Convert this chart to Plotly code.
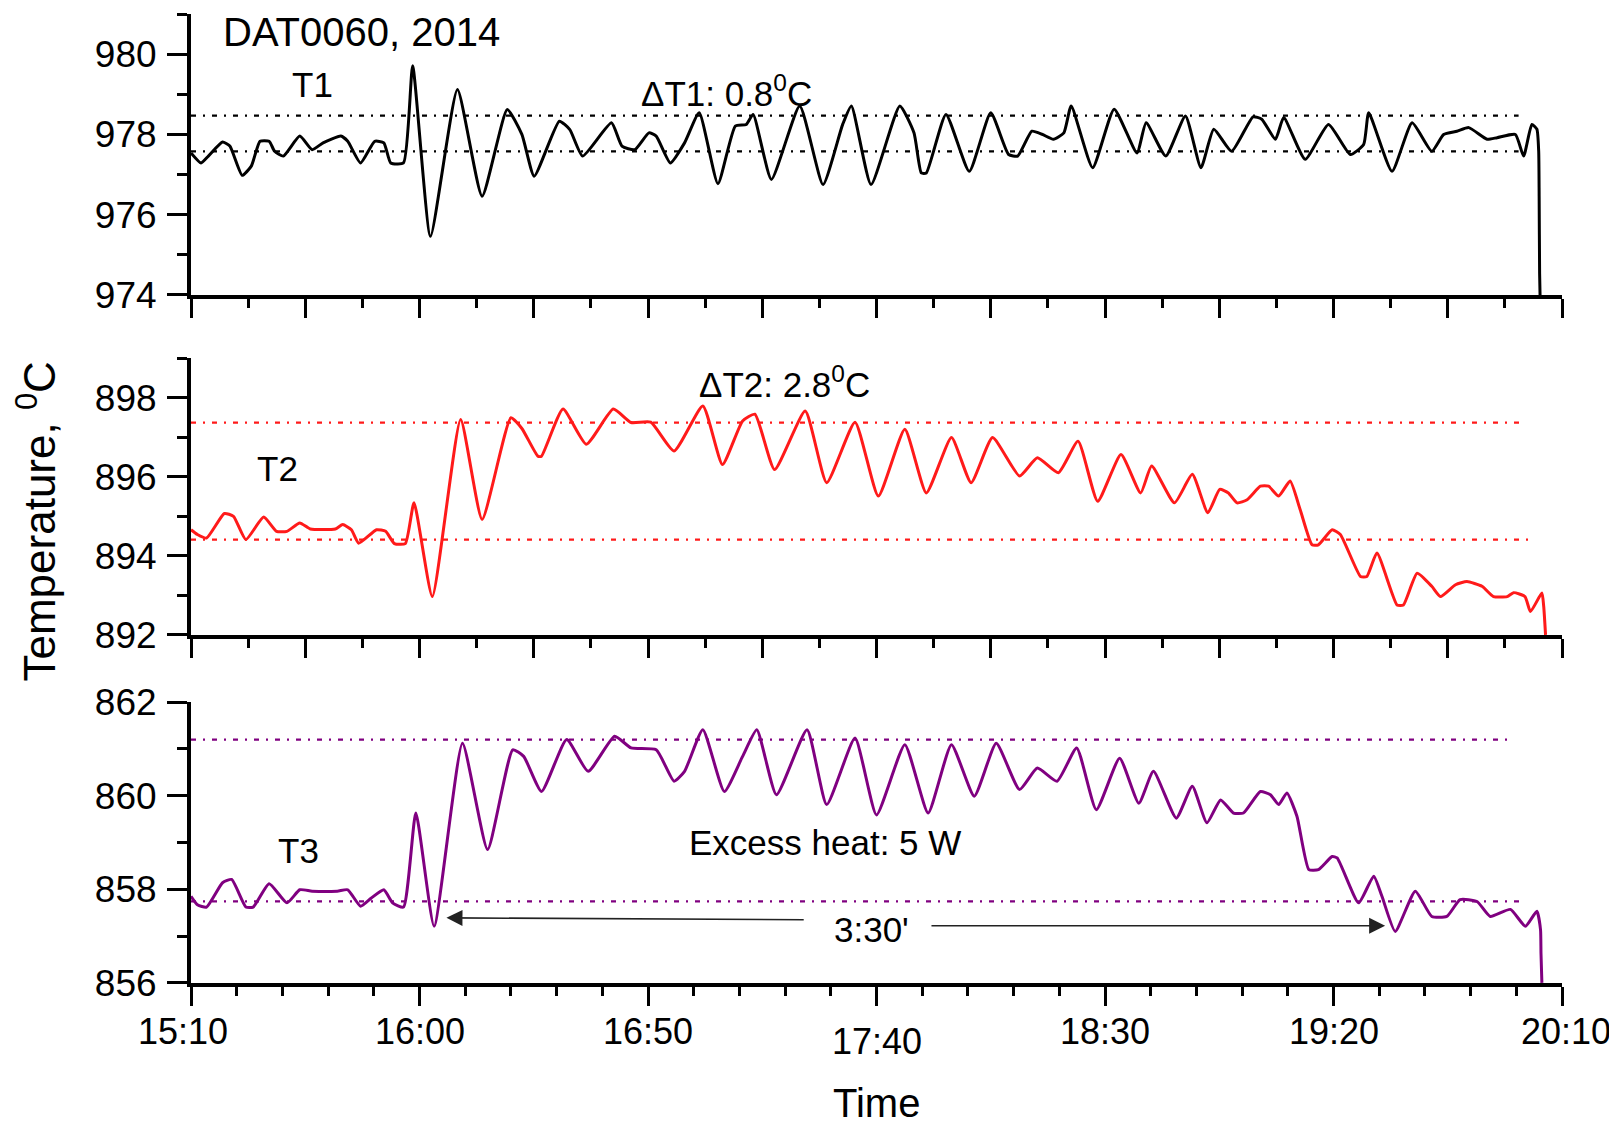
import plotly.graph_objects as go

# ---------------- data (minutes after 15:10, temperature in deg C) ----------------
t1_time = [0, 2.2, 3.8, 6.9, 8.5, 11.2, 13.2, 15.1, 17.1, 18.3, 20.2, 23.8, 26.5, 28.9, 32.8, 34.3,
           37.1, 40.2, 42.2, 43.7, 46.5, 48.5, 52.4, 58.3, 63.7, 69.2, 72.4, 75.1, 80.6, 82.9, 85.7,
           92.0, 94.3, 97.1, 100.2, 101.8, 104.9, 108.0, 111.2, 115.3, 119.1, 121.5, 123.0, 127.0,
           133.2, 138.3, 142.6, 144.5, 148.8, 155.1, 158.2, 159.8, 160.9, 165.2, 170.3, 175.0, 178.9,
           180.9, 184.0, 186.3, 188.7, 191.0, 192.6, 197.3, 202.0, 207.0, 209.0, 213.3, 217.6, 221.0,
           223.8, 227.7, 232.4, 234.3, 237.3, 239.1, 243.8, 248.9, 253.7, 256.6, 257.7, 262.8, 267.2,
           271.5, 274.1, 277.0, 279.6, 283.6, 285.8, 289.8, 291.6, 293.4, 294.5, 294.9, 295.0, 295.1,
           295.2]
t1_temp = [977.54, 977.29, 977.46, 977.81, 977.71, 976.98, 977.21, 977.83, 977.83, 977.58, 977.46,
           977.96, 977.62, 977.79, 977.96, 977.83, 977.29, 977.83, 977.79, 977.29, 977.29, 979.71,
           975.46, 979.12, 976.46, 978.62, 978.0, 976.96, 978.33, 978.12, 977.46, 978.29, 977.71,
           977.62, 978.04, 977.96, 977.29, 977.79, 978.54, 976.77, 978.21, 978.25, 978.5, 976.88,
           978.71, 976.75, 978.25, 978.71, 976.75, 978.71, 978.04, 977.04, 977.04, 978.5, 977.08,
           978.54, 977.5, 977.46, 978.08, 978.0, 977.88, 978.04, 978.71, 977.17, 978.63, 977.54,
           978.29, 977.46, 978.46, 977.17, 978.13, 977.58, 978.44, 978.38, 977.88, 978.42, 977.38,
           978.25, 977.5, 977.75, 978.54, 977.08, 978.29, 977.58, 978.0, 978.08, 978.17, 977.88,
           977.92, 978.0, 977.46, 978.25, 978.13, 977.58, 976.46, 974.54, 974.0]

t2_time = [0, 1.4, 3.4, 7.3, 9.3, 12.0, 15.9, 18.7, 21.0, 23.8, 26.1, 31.6, 33.2, 35.1, 36.7, 40.6,
           42.6, 44.5, 46.9, 48.8, 52.8, 59.0, 63.7, 70.0, 72.4, 75.9, 76.7, 81.4, 86.5, 92.4, 96.3,
           100.6, 105.7, 112.0, 116.3, 120.7, 123.4, 127.7, 134.4, 139.1, 145.3, 150.4, 156.2, 160.9,
           166.4, 170.7, 175.4, 181.3, 185.2, 189.8, 194.1, 198.4, 203.5, 207.8, 210.2, 215.2, 219.1,
           222.5, 225.1, 227.0, 228.9, 231.1, 234.0, 235.8, 238.0, 240.5, 242.7, 245.3, 246.7, 249.7,
           251.5, 255.9, 257.3, 259.5, 263.9, 265.3, 268.3, 271.5, 273.4, 276.7, 279.2, 282.5, 285.0,
           288.0, 289.4, 291.9, 293.1, 295.6, 296.0, 296.4]
t2_temp = [894.66, 894.54, 894.45, 895.07, 895.0, 894.41, 894.98, 894.62, 894.62, 894.83, 894.68,
           894.68, 894.79, 894.66, 894.32, 894.66, 894.62, 894.31, 894.31, 895.34, 892.97, 897.45,
           894.92, 897.49, 897.22, 896.52, 896.52, 897.71, 896.82, 897.71, 897.37, 897.38, 896.65,
           897.79, 896.31, 897.41, 897.58, 896.18, 897.66, 895.85, 897.38, 895.51, 897.2, 895.59,
           896.99, 895.85, 896.99, 896.02, 896.48, 896.1, 896.9, 895.38, 896.56, 895.59, 896.27,
           895.34, 896.06, 895.09, 895.68, 895.59, 895.34, 895.42, 895.76, 895.76, 895.51, 895.89,
           895.17, 894.28, 894.28, 894.66, 894.54, 893.48, 893.48, 894.07, 892.76, 892.76, 893.56,
           893.23, 892.97, 893.27, 893.35, 893.23, 892.97, 892.97, 893.07, 892.97, 892.59, 893.06,
           892.72, 892.0]

t3_time = [0, 1.4, 3.4, 6.9, 8.9, 12.0, 13.6, 17.1, 21.0, 23.8, 26.5, 32.0, 34.3, 37.1, 39.4, 42.2,
           44.1, 46.5, 49.2, 53.2, 59.4, 64.9, 70.4, 72.8, 76.7, 82.2, 86.9, 92.7, 96.3, 101.8, 105.7,
           108.0, 112.0, 116.7, 120.7, 123.8, 128.1, 134.8, 139.1, 145.3, 150.0, 156.2, 161.3, 166.4,
           171.4, 176.2, 181.3, 185.2, 189.5, 193.8, 198.1, 203.2, 207.4, 210.6, 215.6, 219.1, 222.3,
           225.3, 228.1, 230.3, 234.0, 236.2, 238.0, 239.8, 242.0, 244.6, 246.7, 249.7, 250.8, 255.5,
           258.8, 260.6, 263.5, 267.9, 271.5, 274.8, 277.7, 281.4, 284.3, 288.7, 292.0, 294.5, 295.3,
           295.4, 295.6]
t3_temp = [857.85, 857.67, 857.62, 858.14, 858.21, 857.62, 857.62, 858.12, 857.71, 857.99, 857.96,
           857.96, 857.99, 857.64, 857.81, 857.99, 857.71, 857.62, 859.63, 857.21, 861.12, 858.85,
           860.98, 860.84, 860.09, 861.2, 860.52, 861.27, 861.02, 860.98, 860.31, 860.52, 861.41,
           860.09, 860.84, 861.41, 860.02, 861.41, 859.81, 861.23, 859.59, 861.09, 859.63, 861.09,
           859.99, 861.12, 860.13, 860.59, 860.31, 861.02, 859.7, 860.8, 859.84, 860.52, 859.52,
           860.2, 859.42, 859.91, 859.63, 859.63, 860.09, 860.02, 859.81, 860.06, 859.56, 858.42,
           858.42, 858.7, 858.67, 857.71, 858.28, 857.85, 857.1, 857.96, 857.42, 857.42, 857.78,
           857.74, 857.42, 857.57, 857.21, 857.53, 857.14, 856.64, 856.0]

# reference (band) lines: [upper, lower] levels and where they end (minutes)
band1 = [978.47, 977.58]
band1_end = [290.5, 290.5]
band2 = [897.37, 894.41]
band2_end = [291.6, 292.7]
band3 = [861.2, 857.74]
band3_end = [289.1, 291.6]

x_tick_minutes = [0, 50, 100, 150, 200, 250, 300]
x_tick_labels = ["15:10", "16:00", "16:50", "17:40", "18:30", "19:20", "20:10"]
y1_ticks = [974, 976, 978, 980]
y2_ticks = [892, 894, 896, 898]
y3_ticks = [856, 858, 860, 862]

assert len(t1_time) == len(t1_temp)
assert len(t2_time) == len(t2_temp)
assert len(t3_time) == len(t3_temp)

BLACK = "#000000"
RED = "#ff1a1a"
PURPLE = "#800080"
FONT = "Liberation Sans, Arial, sans-serif"
NARROW = "Liberation Sans Narrow, Arial Narrow, Liberation Sans, Arial, sans-serif"

fig = go.Figure()

series = [
    (t1_time, t1_temp, BLACK, "x", "y", band1, band1_end, "T1"),
    (t2_time, t2_temp, RED, "x2", "y2", band2, band2_end, "T2"),
    (t3_time, t3_temp, PURPLE, "x3", "y3", band3, band3_end, "T3"),
]
for tt, vv, col, xa, ya, band, bend, name in series:
    for lvl, end in zip(band, bend):
        fig.add_trace(go.Scatter(x=[0, end], y=[lvl, lvl], mode="lines",
                                 line=dict(color=col, width=2.2, dash="5px,7px,2px,7px"),
                                 xaxis=xa, yaxis=ya, showlegend=False, hoverinfo="skip"))
    fig.add_trace(go.Scatter(x=tt, y=vv, mode="lines", name=name,
                             line=dict(color=col, width=3.0, shape="spline", smoothing=0.5),
                             xaxis=xa, yaxis=ya, showlegend=False))

tickfont = dict(family=FONT, size=37, color=BLACK)


def xaxis_cfg(anchor, major, minor_step):
    minor_vals = []
    v = minor_step
    while v < 300:
        if all(abs(v - m) > 1e-6 for m in major):
            minor_vals.append(v)
        v += minor_step
    return dict(anchor=anchor, domain=[0, 1], range=[0, 300], automargin=False,
                showline=True, linewidth=4, linecolor=BLACK, mirror=False,
                ticks="outside", tickvals=major, ticklen=19, tickwidth=3, tickcolor=BLACK,
                minor=dict(tickvals=minor_vals, ticklen=9, tickwidth=3, tickcolor=BLACK, ticks="outside"),
                showticklabels=False, showgrid=False, zeroline=False)


def yaxis_cfg(anchor, dom, rng, major):
    minor_vals = [m + 1 for m in major if m + 1 <= rng[1] + 1e-6]
    return dict(anchor=anchor, domain=dom, range=[rng[0] - 0.002, rng[1] + 0.002], automargin=False,
                showline=True, linewidth=4, linecolor=BLACK,
                ticks="outside", tickvals=major, ticktext=[str(m) for m in major],
                ticklen=20, tickwidth=3, tickcolor=BLACK,
                minor=dict(tickvals=minor_vals, ticklen=10, tickwidth=3, tickcolor=BLACK, ticks="outside"),
                tickfont=tickfont, ticklabelstandoff=3,
                showgrid=False, zeroline=False)


major25 = [25 * i for i in range(13)]
# the page body adds an 8 px offset, so the figure is 8 px smaller than the window
fig.update_layout(
    width=1609, height=1118,
    margin=dict(l=183, r=55, t=6, b=143),
    paper_bgcolor="white", plot_bgcolor="white",
    font=dict(family=FONT, size=33, color=BLACK),
    xaxis=xaxis_cfg("y", major25, 12.5),
    xaxis2=xaxis_cfg("y2", major25, 12.5),
    xaxis3=xaxis_cfg("y3", x_tick_minutes, 10),
    yaxis=yaxis_cfg("x", [0.710, 1.0], [974, 981], y1_ticks),
    yaxis2=yaxis_cfg("x2", [0.3591, 0.645], [892, 899], y2_ticks),
    yaxis3=yaxis_cfg("x3", [0.0, 0.290], [856, 862], y3_ticks),
)

ann = []
# x tick labels of the bottom panel (17:40 sits a little lower in the original)
xshifts = {"15:10": -8, "20:10": 4}
for m, lab in zip(x_tick_minutes, x_tick_labels):
    ann.append(dict(x=m, xref="x3", y=0, yref="paper", text=lab, showarrow=False,
                    xanchor="center", yanchor="middle", yshift=(-58 if lab == "17:40" else -48),
                    xshift=xshifts.get(lab, 0),
                    font=dict(family=NARROW, size=36, color=BLACK)))
ann.append(dict(x=150, xref="x3", y=0, yref="paper", text="Time", showarrow=False,
                xanchor="center", yanchor="middle", yshift=-120,
                font=dict(family=NARROW, size=40, color=BLACK)))
ann.append(dict(x=-0.1125, xref="paper", y=0.476, yref="paper",
                text="Temperature, <sup>0</sup>C", textangle=-90, showarrow=False,
                xanchor="center", yanchor="middle",
                font=dict(family=NARROW, size=44, color=BLACK)))

txt = dict(family=FONT, size=35, color=BLACK)
ann += [
    dict(x=6.5, xref="x", y=980.55, yref="y", text="DAT0060, 2014", showarrow=False,
         xanchor="left", yanchor="middle", font=dict(family=FONT, size=40, color=BLACK)),
    dict(x=26.5, xref="x", y=979.25, yref="y", text="T1", showarrow=False,
         xanchor="center", yanchor="middle", font=txt),
    dict(x=98.0, xref="x", y=979.08, yref="y", text="ΔT1: 0.8<sup>0</sup>C", showarrow=False,
         xanchor="left", yanchor="middle", font=txt),
    dict(x=18.9, xref="x2", y=896.22, yref="y2", text="T2", showarrow=False,
         xanchor="center", yanchor="middle", font=txt),
    dict(x=110.8, xref="x2", y=898.4, yref="y2", text="ΔT2: 2.8<sup>0</sup>C", showarrow=False,
         xanchor="left", yanchor="middle", font=txt),
    dict(x=23.5, xref="x3", y=858.83, yref="y3", text="T3", showarrow=False,
         xanchor="center", yanchor="middle", font=txt),
    dict(x=125.0, xref="x3", y=862.1, yref="y3", text="ΔT3: 3.3<sup>0</sup>C", showarrow=False,
         xanchor="left", yanchor="middle", font=txt),
    dict(x=108.5, xref="x3", y=858.99, yref="y3", text="Excess heat: 5 W", showarrow=False,
         xanchor="left", yanchor="middle", font=txt),
    dict(x=149.0, xref="x3", y=857.15, yref="y3", text="3:30'", showarrow=False,
         xanchor="center", yanchor="middle", font=txt),
    # arrows marking the 3:30' interval
    dict(x=55.9, y=857.39, xref="x3", yref="y3", ax=134.4, ay=857.35, axref="x3", ayref="y3",
         text="", showarrow=True, arrowhead=2, arrowsize=2.0, arrowwidth=1.6, arrowcolor="#222222"),
    dict(x=261.3, y=857.22, xref="x3", yref="y3", ax=161.7, ay=857.22, axref="x3", ayref="y3",
         text="", showarrow=True, arrowhead=2, arrowsize=2.0, arrowwidth=1.6, arrowcolor="#222222"),
]
fig.update_layout(annotations=ann)

fig.write_html("out.html")
